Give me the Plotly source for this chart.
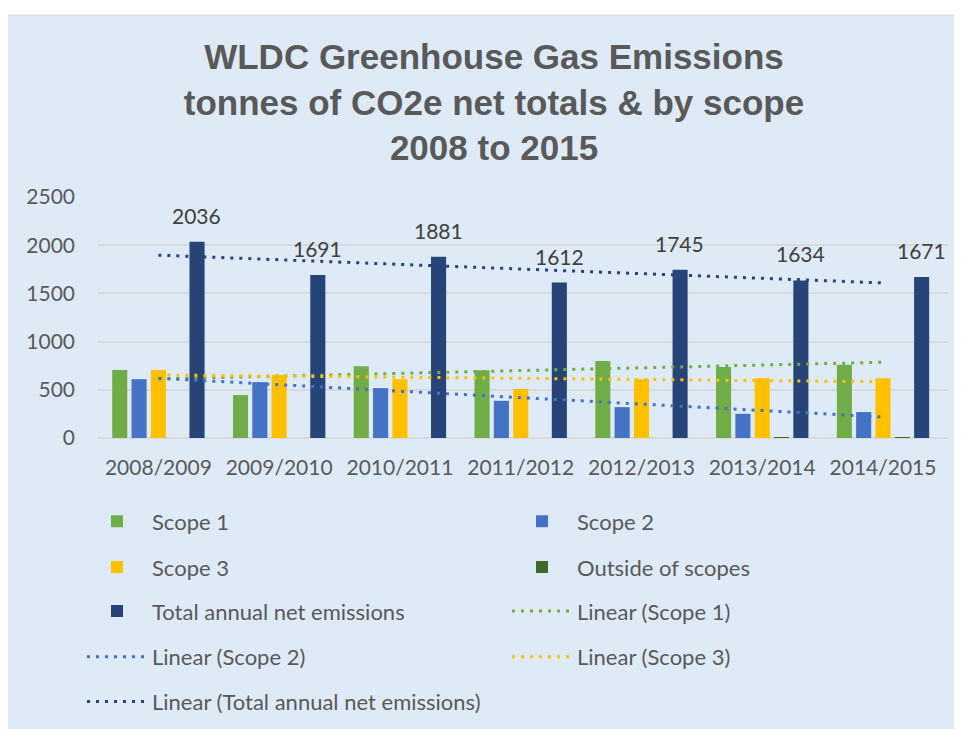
import plotly.graph_objects as go
import numpy as np

# -- data (tonnes CO2e)
years = ["2008/2009", "2009/2010", "2010/2011", "2011/2012", "2012/2013", "2013/2014", "2014/2015"]
scope1 = [706, 445, 745, 703, 800, 737, 761]
scope2 = [610, 579, 517, 386, 320, 251, 269]
scope3 = [706, 655, 610, 510, 610, 620, 620]
outside = [0, 0, 0, 0, 0, 10, 10]
totals = [2036, 1691, 1881, 1612, 1745, 1634, 1671]
y_ticks = [0, 500, 1000, 1500, 2000, 2500]

c_s1, c_s2, c_s3, c_out, c_tot = "#70AD47", "#4472C4", "#FFC000", "#43682B", "#264478"
txt = "#595959"
bg = "#DEEBF7"
font_family = "Lato, Calibri, sans-serif"

def trend(vals):
    # excel style linear trendline over category index 1..n
    x = np.arange(1, len(vals) + 1)
    m, b = np.polyfit(x, vals, 1)
    return m * x + b

fig = go.Figure()

bars = [("Scope 1", scope1, c_s1, "legend"),
        ("Scope 2", scope2, c_s2, "legend"),
        ("Scope 3", scope3, c_s3, "legend2"),
        ("Outside of scopes", outside, c_out, "legend2"),
        ("Total annual net emissions", totals, c_tot, "legend3")]
for name, vals, col, leg in bars:
    fig.add_trace(go.Bar(x=years, y=vals, name=name, marker_color=col,
                         marker_line_width=0, legend=leg))

trends = [("Linear (Scope 1)", scope1, c_s1, "legend3"),
          ("Linear (Scope 2)", scope2, c_s2, "legend4"),
          ("Linear (Scope 3)", scope3, c_s3, "legend4"),
          ("Linear (Total annual net emissions)", totals, c_tot, "legend5")]
for name, vals, col, leg in trends:
    fig.add_trace(go.Scatter(x=years, y=trend(vals), name=name, mode="lines",
                             line=dict(color=col, width=3, dash="3px,6px"),
                             legend=leg))

# -- data labels above the total bars
for yr, v in zip(years, totals):
    fig.add_annotation(x=yr, y=v, text=str(v), showarrow=False, yanchor="bottom",
                       xshift=38.5, yshift=12,
                       font=dict(family=font_family, size=21, color="#404040"))

# page has an 8px body margin, so layout is worked out in page pixels and shifted
OFF = 8
W, H = 962 - OFF, 729 - OFF
left, right, top, bottom = 98, 948, 196.5, 438.3   # plot area in page pixels
ml, mr, mt, mb = left - OFF, W - (right - OFF), top - OFF, H - (bottom - OFF)
pw, ph = right - left, bottom - top

def px_x(p):
    return (p - left) / pw

def px_y(p):
    return (bottom - p) / ph

# light blue chart area with white strip at top/left
fig.add_shape(type="rect", xref="paper", yref="paper", layer="below",
              x0=px_x(5), x1=px_x(975), y0=px_y(740), y1=px_y(14),
              fillcolor=bg, line=dict(color="#D9D9D9", width=1))

iw = 60
leg_common = dict(orientation="h", xanchor="left", yanchor="middle", x=px_x(153 - iw - 11),
                  bgcolor="rgba(0,0,0,0)", itemwidth=iw,
                  entrywidth=422 - iw - 12, entrywidthmode="pixels",
                  font=dict(family=font_family, size=22, color=txt))
row_y = [522, 568, 612, 658, 703]

fig.update_layout(
    width=W, height=H,
    margin=dict(l=ml, r=mr, t=mt, b=mb, autoexpand=False),
    paper_bgcolor="white",
    plot_bgcolor="rgba(0,0,0,0)",
    barmode="group", bargap=0.2, bargroupgap=0.22,
    title=dict(text="WLDC Greenhouse Gas Emissions<br>tonnes of CO2e net totals & by scope<br>2008 to 2015",
               x=(494 - OFF) / W, xanchor="center", xref="container",
               y=1 - 61 / H, yanchor="top", yref="container",
               font=dict(family="Liberation Sans, Arial, sans-serif", size=35, color=txt, weight="bold")),
    xaxis=dict(showgrid=False, showline=False, ticks="", ticklabelstandoff=15,
               tickfont=dict(family=font_family, size=21, color=txt)),
    yaxis=dict(range=[0, 2500], tickvals=y_ticks, showgrid=True, gridcolor="#D9D9D9",
               gridwidth=1.5, zeroline=True, zerolinecolor="#D9D9D9", zerolinewidth=1.5,
               showline=False, ticks="", ticklabelstandoff=22,
               tickfont=dict(family=font_family, size=21, color=txt)),
    legend=dict(leg_common, y=px_y(row_y[0])),
    legend2=dict(leg_common, y=px_y(row_y[1])),
    legend3=dict(leg_common, y=px_y(row_y[2])),
    legend4=dict(leg_common, y=px_y(row_y[3])),
    legend5=dict(leg_common, y=px_y(row_y[4])),
)

fig.write_html("out.html")
